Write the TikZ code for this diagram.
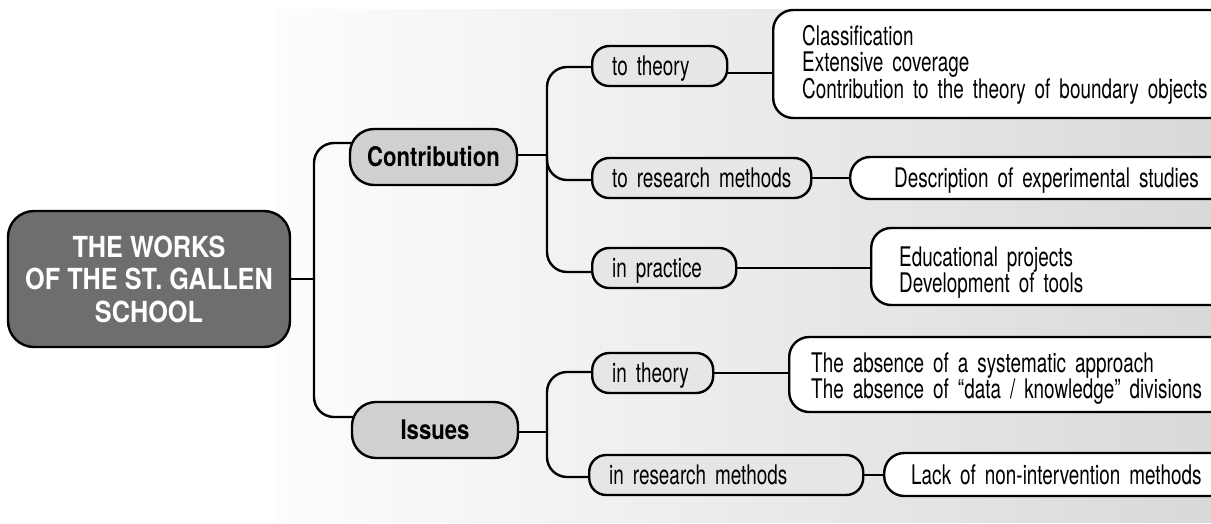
\documentclass[tikz,border=0pt]{standalone}
\usepackage{fontspec}
\setmainfont{TeX Gyre Heros}[FakeStretch=0.70]
\newfontfamily\boldcn{TeX Gyre Heros}[FakeStretch=0.82]
\newfontfamily\rootcn{TeX Gyre Heros}[FakeStretch=0.87]
\usetikzlibrary{calc}
\pgfdeclarelayer{back}
\pgfdeclarelayer{wires}
\pgfsetlayers{back,wires,main}
\definecolor{rootfill}{HTML}{6E6E6E}
\definecolor{catfill}{HTML}{D0D0D0}
\definecolor{midfill}{HTML}{E6E6E6}
\definecolor{bgleft}{HTML}{FDFDFD}
\definecolor{bgright}{HTML}{D9D9D9}
\tikzset{
  every node/.style={line width=2.4pt},
  rootbox/.style={draw, fill=rootfill, text=white, rounded corners=26pt,
    minimum width=282pt, minimum height=136pt, align=center, inner sep=0pt,
    font=\rootcn\bfseries\fontsize{29}{32.5}\selectfont, text height=86pt, text depth=0pt},
  catbox/.style={draw, fill=catfill, rounded corners=24pt, minimum height=56pt,
    inner sep=0pt, font=\boldcn\bfseries\fontsize{27}{28}\selectfont,
    text height=19.5pt, text depth=0pt},
  midbox/.style={draw, fill=midfill, rounded corners=17pt, minimum height=40pt,
    inner xsep=20pt, inner ysep=0pt, align=left, anchor=west,
    font=\fontsize{27}{28}\selectfont, text height=19.5pt, text depth=0pt},
  leafbox/.style={draw, fill=white, rounded corners=20pt, inner ysep=0pt,
    align=left, anchor=west, font=\fontsize{27}{26}\selectfont, text height=19.5pt},
  wire/.style={line width=2.4pt, rounded corners=20pt}
}
\begin{document}
\begin{tikzpicture}[x=1pt,y=-1pt]
\useasboundingbox (0,0) rectangle (1211,523);
\clip (0,0) rectangle (1211,523);
\begin{pgfonlayer}{back}
\shade[left color=bgleft, right color=bgright] (275,9) rectangle (1211,522);
\end{pgfonlayer}

% root and categories
\node[rootbox] (R) at (149,279) {THE WORKS\\OF THE ST. GALLEN\\SCHOOL};
\node[catbox, minimum width=167pt] (C) at (433.5,157) {Contribution};
\node[catbox, minimum width=166pt] (I) at (435,430) {Issues};

% middle level
\node[midbox, text width=95pt] (T1) at (591,66) {\mbox{to theory}};
\node[midbox, text width=179pt] (T2) at (591,178) {\mbox{to research methods}};
\node[midbox, text width=104pt] (T3) at (591,268) {\mbox{in practice}};
\node[midbox, text width=81pt] (T4) at (591,373) {\mbox{in theory}};
\node[midbox, text width=234pt] (T5) at (588,475) {\mbox{in research methods}};

% leaves
\node[leafbox, minimum height=108pt, inner xsep=29pt, text width=430pt, text depth=57pt] (L1) at (772,64)
  {Classification\\Extensive coverage\\Contribution to the theory of boundary objects};
\node[leafbox, minimum height=42pt, inner xsep=44pt, text width=323pt, text depth=0pt] (L2) at (849,178)
  {Description of experimental studies};
\node[leafbox, minimum height=77pt, inner xsep=28pt, text width=334pt, text depth=20pt] (L3) at (870,266.5)
  {Educational projects\\Development of tools};
\node[leafbox, minimum height=75pt, inner xsep=22pt, text width=428pt, text depth=23pt] (L4) at (788,374.5)
  {The absence of a systematic approach\\The absence of “data / knowledge” divisions};
\node[leafbox, minimum height=43pt, inner xsep=27pt, text width=323pt, text depth=0pt] (L5) at (883,474.5)
  {Lack of non-intervention methods};

% junction points
\coordinate (J1) at (314,279);
\coordinate (J1a) at (314,143);
\coordinate (J1b) at (314,417);
\coordinate (J2a) at (547,67);
\coordinate (J2c) at (547,155);
\coordinate (J2m) at (547,180);
\coordinate (J2b) at (547,272);
\coordinate (J3a) at (547,372);
\coordinate (J3c) at (547,432);
\coordinate (J3b) at (547,477);
\path (T1.center) ++(0,7) coordinate (K1);

\begin{pgfonlayer}{wires}
\draw[wire] (R.center |- J1) -- (J1);
\draw[wire] (C.center |- J1a) -- (J1a) -- (J1b) -- (I.center |- J1b);
\draw[wire] (C.center |- J2c) -- (J2c);
\draw[wire] (T1.center |- J2a) -- (J2a) -- (J2b) -- (T3.center |- J2b);
\draw[wire] (J2c) -- (J2m) -- (T2.center |- J2m);
\draw[wire] (I.center |- J3c) -- (J3c);
\draw[wire] (T4.center |- J3a) -- (J3a) -- (J3b) -- (T5.center |- J3b);
\draw[wire] (K1) -- (K1 -| L1.center);
\draw[wire] (T2.center) -- (T2.center -| L2.center);
\draw[wire] (T3.center) -- (T3.center -| L3.center);
\draw[wire] (T4.center) -- (T4.center -| L4.center);
\draw[wire] (T5.center) -- (T5.center -| L5.center);
\end{pgfonlayer}
\end{tikzpicture}
\end{document}
